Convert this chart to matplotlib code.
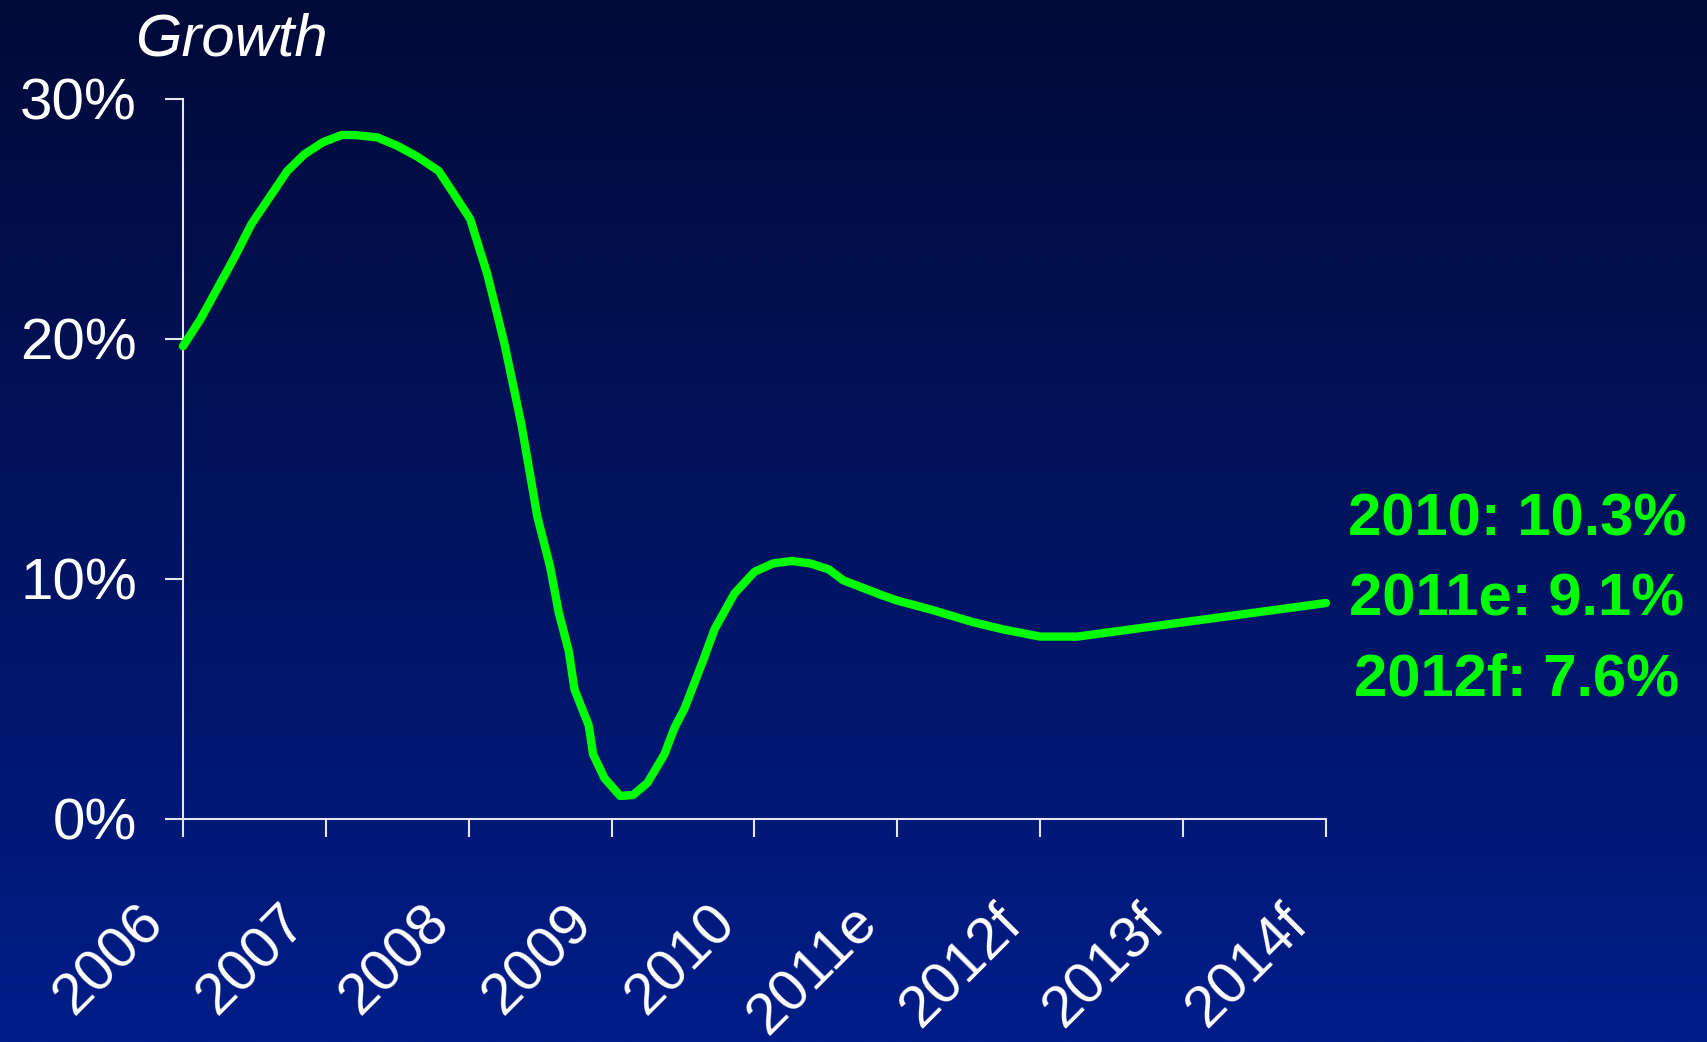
import numpy as np
import matplotlib
matplotlib.use("Agg")
import matplotlib.pyplot as plt
import matplotlib.transforms as mtransforms

plt.rcParams['font.family'] = ['Liberation Sans', 'DejaVu Sans']

# x-axis categories; period is the position along that axis (0 = 2006)
years = ["2006", "2007", "2008", "2009", "2010", "2011e", "2012f", "2013f", "2014f"]
period = [0.0, 0.12, 0.36, 0.48, 0.73, 0.85, 0.98, 1.11, 1.20, 1.36,
          1.50, 1.64, 1.79, 1.89, 2.01, 2.13, 2.25, 2.37, 2.48, 2.57,
          2.63, 2.70, 2.74, 2.84, 2.87, 2.95, 3.06, 3.15, 3.25, 3.37,
          3.44, 3.51, 3.64, 3.72, 3.86, 4.0, 4.13, 4.26, 4.39, 4.52,
          4.62, 4.88, 5.0, 5.25, 5.53, 5.74, 6.0, 6.26, 8.0]
growth = [19.7, 20.8, 23.4, 24.8, 27.0, 27.7, 28.2, 28.5, 28.5, 28.4,
          28.05, 27.6, 27.0, 26.1, 25.0, 22.7, 19.8, 16.4, 12.6, 10.5,
          8.6, 7.0, 5.4, 3.9, 2.7, 1.7, 0.96, 1.0, 1.5, 2.7,
          3.8, 4.6, 6.6, 7.9, 9.4, 10.3, 10.65, 10.75, 10.65, 10.4,
          9.95, 9.35, 9.1, 8.7, 8.2, 7.9, 7.6, 7.6, 9.0]
yticks = [0, 10, 20, 30]

callout_years = ["2010", "2011e", "2012f"]
callout_growth = [10.3, 9.1, 7.6]

W, H = 1708, 1042
fig = plt.figure(figsize=(W / 100, H / 100), dpi=100)

# navy gradient behind everything
top = np.array([2, 10, 56]) / 255
bottom = np.array([0, 29, 136]) / 255
t = np.linspace(0, 1, 256)[:, None]
grad = (top * (1 - t) + bottom * t)[:, None, :]
bg = fig.add_axes([0, 0, 1, 1], zorder=-1)
bg.imshow(grad, aspect='auto', extent=[0, 1, 0, 1], interpolation='bilinear')
bg.axis('off')

ax = fig.add_axes([183 / W, 1 - 819 / H, (1326 - 183) / W, (819 - 99) / H])
ax.set_facecolor('none')

ax.plot(period, growth, color='#00FF00', lw=6, solid_capstyle='round',
        solid_joinstyle='round', clip_on=False, zorder=5)

ax.set_xlim(0, len(years) - 1)
ax.set_ylim(0, 30)
ax.set_xticks(range(len(years)))
ax.set_xticklabels(years, rotation=45, ha='right', va='top')
ax.set_yticks(yticks)
ax.set_yticklabels([f"{v}%" for v in yticks])

axis_color = '#E6E6EE'
for side in ['top', 'right']:
    ax.spines[side].set_visible(False)
for side in ['left', 'bottom']:
    ax.spines[side].set_color(axis_color)
    ax.spines[side].set_linewidth(1.5)

ax.tick_params(axis='y', length=13, width=1.5, color=axis_color,
               labelcolor='white', labelsize=42, pad=20)
ax.tick_params(axis='x', length=13, width=1.5, color=axis_color,
               labelcolor='white', labelsize=42, pad=42)

shift = mtransforms.ScaledTranslation(-9 / 100, 0, fig.dpi_scale_trans)
for lbl in ax.get_xticklabels():
    lbl.set_transform(lbl.get_transform() + shift)

fig.text(135 / W, 1 - 55 / H, "Growth", color='white', fontsize=43,
         style='italic', ha='left', va='baseline')

baselines = [535, 615, 695]
for name, val, yb in zip(callout_years, callout_growth, baselines):
    fig.text(1517 / W, 1 - yb / H, f"{name}: {val:.1f}%", color='#00FF00',
             fontsize=43, fontweight='bold', ha='center', va='baseline')

fig.savefig("out.png", dpi=100)
